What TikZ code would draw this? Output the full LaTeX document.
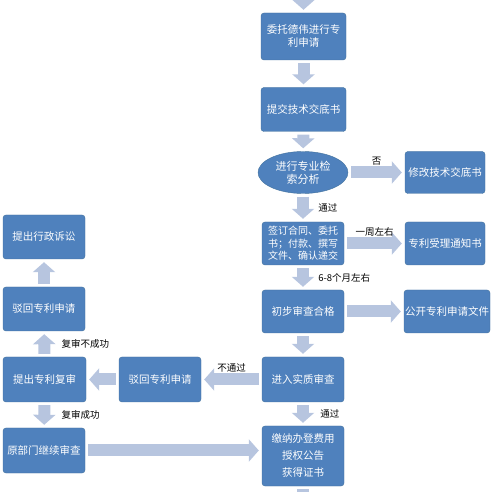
\documentclass[tikz,border=0pt]{standalone}
\usepackage{fontspec}
\setmainfont{Noto Sans CJK SC}
\usepackage{xcolor}
\usetikzlibrary{arrows.meta,positioning,shapes.geometric}
\definecolor{boxblue}{HTML}{4F81BD}
\definecolor{boxedge}{HTML}{41719C}
\definecolor{arrowblue}{HTML}{B7C5DF}
\begin{document}
\begin{tikzpicture}[x=1pt, y=-1pt,
  box/.style={rectangle, rounded corners=3pt, draw=boxedge, fill=boxblue,
    text=white, minimum width=82pt, minimum height=44pt, inner sep=1pt,
    font=\fontsize{10.5}{13}\selectfont, align=center},
  oval/.style={ellipse, draw=boxedge, fill=boxblue, text=white,
    minimum width=90pt, minimum height=42pt, inner sep=0pt,
    font=\fontsize{11}{13}\selectfont, align=center},
  fat/.style={draw=arrowblue, line width=12pt, shorten <=3pt, shorten >=3pt,
    -{Triangle[length=10pt, width=22pt, fill=arrowblue]}},
  lbl/.style={font=\fontsize{9.5}{11}\selectfont, text=black}
]
  \useasboundingbox (0,0) rectangle (499,492);

  % main column
  \node[box, minimum width=85pt, minimum height=47pt] (entrust) at (303.5,36.5)
    {委托德伟进行专\\利申请};
  \node[box, minimum width=85pt] (submit) at (303.5,109.5) {提交技术交底书};
  \node[oval] (search) at (303,172.5) {进行专业检\\索分析};
  \node[box, minimum height=43pt, font=\fontsize{10}{12.5}\selectfont] (sign)
    at (303,243.5) {签订合同、委托\\书；付款、撰写\\文件、确认递交};
  \node[box, minimum height=43pt] (prelim) at (303,311.5) {初步审查合格};
  \node[box, minimum height=45pt] (subst) at (303,379.5) {进入实质审查};
  \node[box, minimum height=60pt, font=\fontsize{10.5}{17}\selectfont] (grant)
    at (303,456) {缴纳办登费用\\授权公告\\获得证书};

  % right column
  \node[box, minimum width=80pt, minimum height=42pt] (revise) at (445,172.5)
    {修改技术交底书};
  \node[box, minimum width=80pt, minimum height=43pt] (notice) at (445,243.5)
    {专利受理通知书};
  \node[box, minimum width=85pt, minimum height=43pt] (publish) at (447,311.5)
    {公开专利申请文件};

  % left side
  \node[box, minimum height=45pt] (rejectm) at (160,379.5) {驳回专利申请};
  \node[box, minimum width=83pt, minimum height=45pt] (review) at (44.5,379.5)
    {提出专利复审};
  \node[box, minimum width=82pt] (rejectl) at (44,309) {驳回专利申请};
  \node[box, minimum width=82pt] (lawsuit) at (44,237) {提出行政诉讼};
  \node[box, minimum width=82pt, minimum height=45pt] (resume) at (44,450.5)
    {原部门继续审查};

  \coordinate (topin) at (303.5,-4);
  \coordinate (botout) at (303,500);

  % connectors
  \draw[fat, shorten <=0pt] (topin) -- (entrust);
  \draw[fat] (entrust) -- (submit);
  \draw[fat] (submit) -- (search);
  \draw[fat] (search) -- node[lbl, above=-2pt] {否} (revise);
  \draw[fat] (search) -- node[lbl, right=6pt] {通过} (sign);
  \draw[fat] (sign) -- node[lbl, above=-2pt] {一周左右} (notice);
  \draw[fat] (sign) -- node[lbl, right=6pt] {6-8个月左右} (prelim);
  \draw[fat] (prelim) -- (publish);
  \draw[fat] (prelim) -- (subst);
  \draw[fat] (subst) -- node[lbl, above=-2pt] {不通过} (rejectm);
  \draw[fat] (subst) -- node[lbl, right=8pt] {通过} (grant);
  \draw[fat] (rejectm) -- (review);
  \draw[fat] (review) -- node[lbl, right=8pt] {复审不成功} (rejectl);
  \draw[fat] (rejectl) -- (lawsuit);
  \draw[fat] (review) -- node[lbl, right=8pt] {复审成功} (resume);
  \draw[fat] (resume.east) -- (resume.east -| grant.west);
  \draw[draw=arrowblue, line width=12pt, shorten <=3pt] (grant) -- (botout);
\end{tikzpicture}
\end{document}
